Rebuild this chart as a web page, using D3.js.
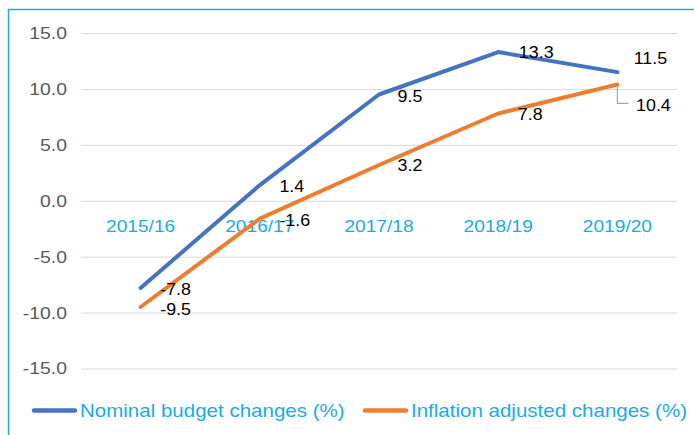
<!DOCTYPE html>
<html>
<head>
<meta charset="utf-8">
<script src="https://cdn.jsdelivr.net/npm/d3@7"></script>
<style>
  body { margin: 0; background: #fff; }
  text { font-family: "Liberation Sans", Arial, sans-serif; }
</style>
</head>
<body>
<div id="chart"></div>
<script>
var years = ["2015/16", "2016/17", "2017/18", "2018/19", "2019/20"];
var nominal = [-7.8, 1.4, 9.5, 13.3, 11.5];
var inflation = [-9.5, -1.6, 3.2, 7.8, 10.4];
var yTicks = [-15, -10, -5, 0, 5, 10, 15];
var seriesNames = ["Nominal budget changes (%)", "Inflation adjusted changes (%)"];

var width = 694, height = 435;
var margin = { top: 33, right: 17, bottom: 67, left: 81 };
var plotW = width - margin.left - margin.right,
    plotH = height - margin.top - margin.bottom;

// plain hyphen for negatives, like the original
var fmt = d3.formatLocale({ decimal: ".", thousands: ",", grouping: [3], currency: ["", ""], minus: "-" }).format(".1f");

// the source text is a bit wider than Liberation Sans, so stretch it horizontally
function stretch(sel, sx) {
    sel.each(function () {
        var t = d3.select(this);
        var tx = +t.attr("x") || 0, ty = +t.attr("y") || 0;
        t.attr("x", 0).attr("y", 0)
            .attr("transform", "translate(" + tx + "," + ty + ") scale(" + sx + ",1)");
    });
}

var svg = d3.select("#chart")
    .append("svg")
    .attr("width", width)
    .attr("height", height);

// frame (top and left edges only)
svg.append("line").attr("x1", 8).attr("x2", 694).attr("y1", 9.5).attr("y2", 9.5)
    .attr("stroke", "#1aabe8").attr("stroke-width", 1.5);
svg.append("line").attr("x1", 8.5).attr("x2", 8.5).attr("y1", 9).attr("y2", 435)
    .attr("stroke", "#1aabe8").attr("stroke-width", 1.5);

var g = svg.append("g")
    .attr("transform", "translate(" + margin.left + "," + margin.top + ")");

var x = d3.scaleBand().domain(years).range([0, plotW]);
var y = d3.scaleLinear().domain([-15, 15]).range([plotH + 0.5, 0]);

// gridlines + y labels
g.append("g")
    .call(d3.axisLeft(y).tickValues(yTicks).tickSize(-plotW).tickFormat(fmt))
    .call(function (a) {
        a.select(".domain").remove();
        a.selectAll(".tick line").attr("stroke", "#d9d9d9").attr("stroke-width", 1);
        a.selectAll(".tick text").attr("x", -14).attr("fill", "#595959")
            .style("font-size", "17px");
        stretch(a.selectAll(".tick text"), 1.14);
    });

// category labels just under the zero line
g.append("g")
    .attr("transform", "translate(0," + (y(0) + 17) + ")")
    .call(d3.axisBottom(x).tickSize(0))
    .call(function (a) {
        a.select(".domain").remove();
        a.selectAll(".tick text").attr("fill", "#1aabe8").style("font-size", "16.5px");
        stretch(a.selectAll(".tick text"), 1.16);
    });

var cx = function (i) { return x(years[i]) + x.bandwidth() / 2; };

var line = d3.line()
    .x(function (d, i) { return cx(i); })
    .y(function (d) { return y(d); });

var series = [
    { name: seriesNames[0], values: nominal, color: "#4472c4" },
    { name: seriesNames[1], values: inflation, color: "#ed7d31" }
];

series.forEach(function (s) {
    g.append("path")
        .datum(s.values)
        .attr("fill", "none")
        .attr("stroke", s.color)
        .attr("stroke-width", 4)
        .attr("stroke-linecap", "round")
        .attr("stroke-linejoin", "round")
        .attr("d", line);
});

// data labels
var nomOffsets = [[35, 1], [32, 1], [31, 2], [38, 0], [33, -14]];
var infOffsets = [[35, 2], [35, 1], [31, 0], [32, 1], [36, 21]];

function addLabels(values, offsets) {
    var t = g.selectAll(null)
        .data(values)
        .enter()
        .append("text")
        .attr("x", function (d, i) { return cx(i) + offsets[i][0]; })
        .attr("y", function (d, i) { return y(d) + offsets[i][1]; })
        .attr("text-anchor", "middle")
        .attr("dy", "0.35em")
        .attr("fill", "#000")
        .style("font-size", "17px")
        .text(function (d) { return fmt(d); });
    stretch(t, 1.05);
}
addLabels(nominal, nomOffsets);
addLabels(inflation, infOffsets);

// leader line for last inflation label
var lx = cx(4), ly = y(inflation[4]);
g.append("path")
    .attr("d", "M" + lx + "," + (ly + 2) + "V" + (ly + 19) + "H" + (lx + 11))
    .attr("fill", "none")
    .attr("stroke", "#a6a6a6")
    .attr("stroke-width", 1.2);

// legend
var legend = svg.append("g").attr("transform", "translate(0,410.5)");
var legendX = [32, 363];
series.forEach(function (s, i) {
    legend.append("line")
        .attr("x1", legendX[i] + 2).attr("x2", legendX[i] + 43)
        .attr("y1", 0).attr("y2", 0)
        .attr("stroke", s.color)
        .attr("stroke-width", 4.5)
        .attr("stroke-linecap", "round");
    var t = legend.append("text")
        .attr("x", legendX[i] + 48)
        .attr("y", 0)
        .attr("dy", "0.35em")
        .attr("fill", "#1aabe8")
        .style("font-size", "18px")
        .text(s.name);
    stretch(t, 1.14);
});
</script>
</body>
</html>
